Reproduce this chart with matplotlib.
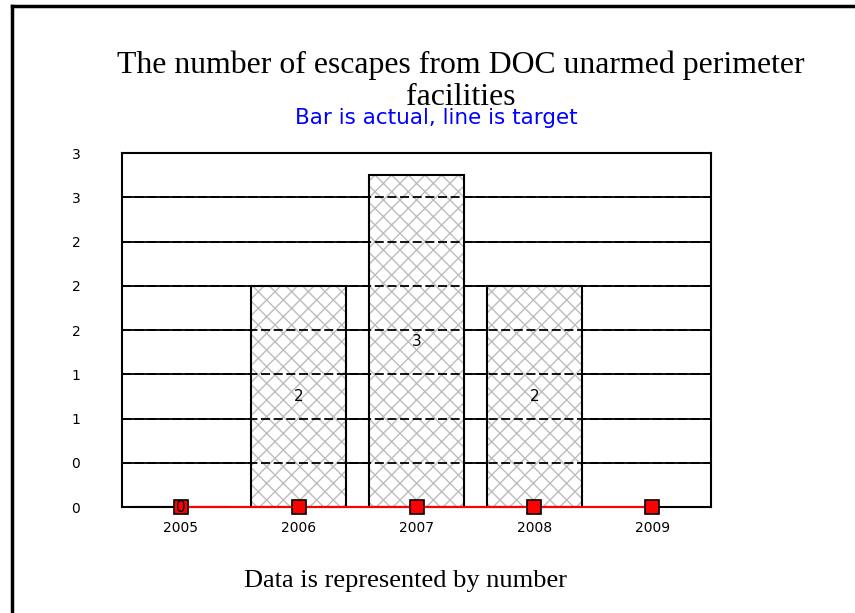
import matplotlib
matplotlib.use("Agg")
import matplotlib.pyplot as plt
from matplotlib.lines import Line2D

# ---- data ----
years = ["2005", "2006", "2007", "2008", "2009"]
bar_years = ["2005", "2006", "2007", "2008"]
actual = [0, 2, 3, 2]
target = [0, 0, 0, 0, 0]
ytick_values = [0, 0.4, 0.8, 1.2, 1.6, 2.0, 2.4, 2.8, 3.2]
ytick_labels = ["0", "0", "1", "1", "2", "2", "2", "3", "3"]
title = "The number of escapes from DOC unarmed perimeter\nfacilities"
subtitle = "Bar is actual, line is target"
footer = "Data is represented by number"

fig = plt.figure(figsize=(8.55, 6.13), dpi=100)
ax = fig.add_axes([0.1427, 0.1729, 0.6889, 0.5775])

x_all = list(range(len(years)))
x_bar = [years.index(y) for y in bar_years]

# solid grid below bars
for v in ytick_values:
    ax.axhline(v, color="black", lw=1.3, zorder=0.5)

# hatched fill
ax.bar(x_bar, actual, width=0.81, color="white", edgecolor="#bdbdbd",
       hatch="xx", lw=0, zorder=1)
# dashed grid over bar fills
for v in ytick_values:
    ax.axhline(v, color="black", lw=1.3, ls=(0, (5, 2)), zorder=1.5)
# bar outlines
ax.bar(x_bar, actual, width=0.81, fill=False, edgecolor="black", lw=1.5, zorder=2)

# target line
ax.plot(x_all, target, color="red", lw=1.5, marker="s", markersize=10,
        markerfacecolor="red", markeredgecolor="black", markeredgewidth=1.2,
        zorder=3, clip_on=False)

# bar value labels
for xi, v in zip(x_bar, actual):
    ax.text(xi, v / 2, str(v), ha="center", va="center", fontsize=11,
            family="DejaVu Sans", zorder=4)

ax.set_xlim(-0.5, 4.5)
ax.set_ylim(0, 3.2)
ax.set_xticks(x_all)
ax.set_xticklabels(years, family="DejaVu Sans", fontsize=10)
ax.set_yticks(ytick_values)
ax.set_yticklabels(ytick_labels, family="DejaVu Sans", fontsize=10)
ax.tick_params(axis="y", length=0, pad=30)
ax.tick_params(axis="x", length=0, pad=10)
for s in ax.spines.values():
    s.set_linewidth(1.5)
    s.set_color("black")

fig.text(0.539, 0.868, title, ha="center", va="center", fontsize=22.9,
         family="Liberation Serif", linespacing=1.15)
fig.text(0.51, 0.807, subtitle, ha="center", va="center", fontsize=15.5,
         family="DejaVu Sans", color="blue")
fig.text(0.474, 0.052, footer, ha="center", va="center", fontsize=19,
         family="Liberation Serif")

# page border (left and top)
fig.add_artist(Line2D([0.0146, 0.0146], [0.0, 0.9902], transform=fig.transFigure,
                      color="black", lw=2.5))
fig.add_artist(Line2D([0.0146, 1.0], [0.9902, 0.9902], transform=fig.transFigure,
                      color="black", lw=2.5))

fig.savefig("out.png", dpi=100)
